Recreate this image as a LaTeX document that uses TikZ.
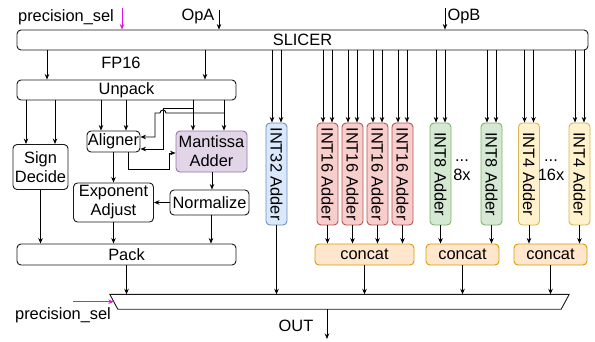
\documentclass[tikz,border=0pt]{standalone}
\usepackage{fontspec}
\setmainfont{Liberation Sans}
\usetikzlibrary{arrows.meta}
\usetikzlibrary{calc}

\definecolor{selcol}{RGB}{220,20,220}
\definecolor{mantfill}{HTML}{E1D5E7}
\definecolor{mantline}{HTML}{9673A6}
\definecolor{bluefill}{HTML}{DAE8FC}
\definecolor{blueline}{HTML}{6C8EBF}
\definecolor{redfill}{HTML}{F8CECC}
\definecolor{redline}{HTML}{B85450}
\definecolor{greenfill}{HTML}{D5E8D4}
\definecolor{greenline}{HTML}{82B366}
\definecolor{yelfill}{HTML}{FFF2CC}
\definecolor{yelline}{HTML}{D6B656}
\definecolor{catfill}{HTML}{FFE6CC}
\definecolor{catline}{HTML}{D79B00}

\tikzset{
  blk/.style={draw=black!90, line width=0.9pt, rounded corners=4pt, inner sep=0pt, align=center},
  adder/.style={blk, minimum width=21pt, minimum height=102pt},
  catbox/.style={blk, fill=catfill, draw=catline, minimum height=21pt},
  arr/.style={line width=0.9pt, -{Stealth[length=5.5pt,width=4.5pt]}},
  lbl/.style={inner sep=0pt, align=center}
}

\begin{document}
\begin{tikzpicture}[x=1pt, y=-1pt, font=\fontsize{16.4}{19}\selectfont]
\useasboundingbox (0,0) rectangle (595,341);

\node[lbl] (psel) at (66,17) {precision\_sel};
\node[lbl] (opa) at (198,16) {OpA};
\node[lbl] (opb) at (464,16) {OpB};
\coordinate (pselin) at (122,8);
\coordinate (opain) at (219,10);
\coordinate (opbin) at (445,8);

\node[blk, minimum width=571pt, minimum height=20pt] (slicer) at (302.5,40) {SLICER};
\node[lbl] (fp16) at (121,63) {FP16};

\node[blk, minimum width=219pt, minimum height=20pt] (unpack) at (126.5,90) {Unpack};
\node[blk, minimum width=55pt, minimum height=45pt] (sign) at (40.5,167) {Sign\\Decide};
\node[blk, minimum width=53pt, minimum height=21pt] (aligner) at (113.5,141.5) {Aligner};
\node[blk, fill=mantfill, draw=mantline, minimum width=71pt, minimum height=41pt] (mant) at (211.5,151.5) {Mantissa\\Adder};
\node[blk, minimum width=80pt, minimum height=39pt] (expadj) at (113.5,202.5) {Exponent\\Adjust};
\node[blk, minimum width=79pt, minimum height=25pt] (norm) at (209.5,202.5) {Normalize};
\node[blk, minimum width=219pt, minimum height=21pt] (pack) at (126.5,254.5) {Pack};

\node[adder, fill=bluefill, draw=blueline] (i32) at (276.5,174) {\rotatebox{-90}{INT32 Adder}};
\node[adder, fill=redfill, draw=redline] (i16a) at (327.5,174) {\rotatebox{-90}{INT16 Adder}};
\node[adder, fill=redfill, draw=redline] (i16b) at (352.5,174) {\rotatebox{-90}{INT16 Adder}};
\node[adder, fill=redfill, draw=redline] (i16c) at (377.5,174) {\rotatebox{-90}{INT16 Adder}};
\node[adder, fill=redfill, draw=redline] (i16d) at (402.5,174) {\rotatebox{-90}{INT16 Adder}};
\node[adder, fill=greenfill, draw=greenline] (i8a) at (440.5,174) {\rotatebox{-90}{INT8 Adder}};
\node[adder, fill=greenfill, draw=greenline] (i8b) at (491.5,174) {\rotatebox{-90}{INT8 Adder}};
\node[adder, fill=yelfill, draw=yelline] (i4a) at (529,174) {\rotatebox{-90}{INT4 Adder}};
\node[adder, fill=yelfill, draw=yelline] (i4b) at (579.5,174) {\rotatebox{-90}{INT4 Adder}};
\node[lbl] (dots8) at (462,170) {...\\8x};
\node[lbl] (dots4) at (551,170) {...\\16x};

\node[catbox, minimum width=99pt] (cat1) at (364.5,254.5) {concat};
\node[catbox, minimum width=73pt] (cat2) at (462.5,254.5) {concat};
\node[catbox, minimum width=73pt] (cat3) at (550.5,254.5) {concat};

\node[minimum width=459pt, minimum height=14.5pt, inner sep=0pt] (mux) at (339.5,301.75) {};
\draw[line width=0.9pt, draw=black!90] (mux.north west) -- (mux.north east) -- ([xshift=-8pt]mux.south east) -- ([xshift=8pt]mux.south west) -- cycle;
\node[lbl] (psel2) at (63,315) {precision\_sel};
\node[lbl] (out) at (296,326) {OUT};
\coordinate (pselin2) at (73,301.75);
\coordinate (outend) at (327,339);

\draw[arr, selcol] (pselin) -- (pselin |- slicer.north);
\draw[arr] (opain) -- (opain |- slicer.north);
\draw[arr] (opbin) -- (opbin |- slicer.north);

\draw[arr] ([xshift=-79.5pt]unpack.north |- slicer.south) -- ([xshift=-79.5pt]unpack.north);
\draw[arr] ([xshift=78.5pt]unpack.north |- slicer.south) -- ([xshift=78.5pt]unpack.north);
\foreach \n in {i32,i16a,i16b,i16c,i16d,i8a,i8b,i4a,i4b} {
  \draw[arr] ([xshift=-4.5pt]\n.north |- slicer.south) -- ([xshift=-4.5pt]\n.north);
  \draw[arr] ([xshift=4.5pt]\n.north |- slicer.south) -- ([xshift=4.5pt]\n.north);
}

\draw[arr] ([xshift=-14.5pt]sign.north |- unpack.south) -- ([xshift=-14.5pt]sign.north);
\draw[arr] ([xshift=14.5pt]sign.north |- unpack.south) -- ([xshift=14.5pt]sign.north);
\draw[arr] ([xshift=-12.5pt]aligner.north |- unpack.south) -- ([xshift=-12.5pt]aligner.north);
\draw[arr] ([xshift=12.5pt]aligner.north |- unpack.south) -- ([xshift=12.5pt]aligner.north);
\draw[arr] ([xshift=-18.5pt]mant.north |- unpack.south) -- ([xshift=-18.5pt]mant.north);
\draw[arr] ([xshift=12.5pt]mant.north |- unpack.south) -- ([xshift=12.5pt]mant.north);

\coordinate (ja) at (224,113);
\coordinate (jb) at (193,108);
\draw[arr] (jb) -- (163,108) |- ([yshift=-7.5pt]aligner.east);
\draw[arr] (ja) -- (166,113) arc[start angle=0, end angle=-180, radius=3] -- (155,113) |- ([yshift=4.5pt]aligner.east);
\draw[arr] ([xshift=14.5pt]aligner.south) |- (169,169) |- ([yshift=-1.5pt]mant.west);

\draw[arr] (aligner.south) -- (expadj.north);
\draw[arr] ([xshift=0.5pt]mant.south) -- ([xshift=0.5pt]mant.south |- norm.north);
\draw[arr] (norm.west) -- (expadj.east);
\draw[arr] (sign.south) -- (sign.south |- pack.north);
\draw[arr] (expadj.south) -- (expadj.south |- pack.north);
\draw[arr] ([xshift=1.5pt]norm.south) -- ([xshift=1.5pt]norm.south |- pack.north);

\foreach \n/\c in {i16a/cat1,i16b/cat1,i16c/cat1,i16d/cat1,i8a/cat2,i8b/cat2,i4a/cat3,i4b/cat3} {
  \draw[arr] (\n.south) -- (\n.south |- \c.north);
}

\foreach \n in {pack,i32,cat1,cat2,cat3} {
  \draw[arr] (\n.south) -- (\n.south |- mux.north);
}
\draw[arr, selcol] (pselin2) -- ([xshift=4pt]mux.west);
\draw[arr] (outend |- mux.south) -- (outend);
\end{tikzpicture}
\end{document}
